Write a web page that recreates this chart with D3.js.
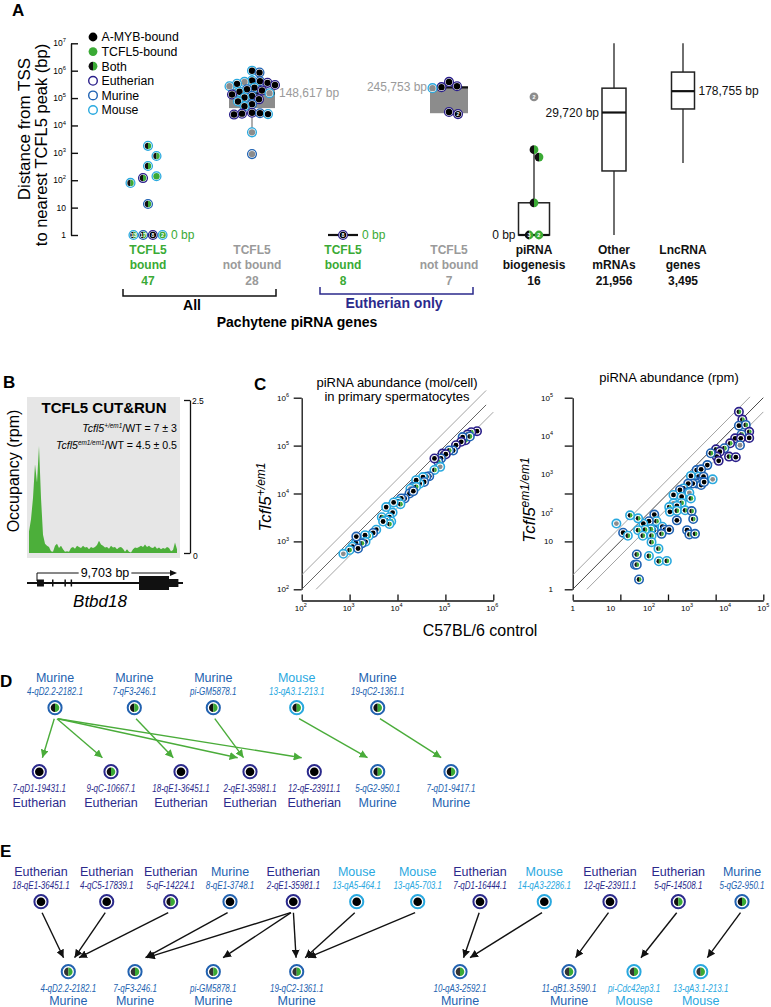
<!DOCTYPE html>
<html><head><meta charset="utf-8">
<script src="https://cdn.jsdelivr.net/npm/d3@7"></script>
<style>
body{margin:0;background:#fff;}
svg{display:block;font-family:"Liberation Sans",Arial,Helvetica,sans-serif;}
</style></head><body>
<svg id="fig" width="771" height="1007"></svg>
<script>
// ---------------- DATA ----------------
// Panel A
const aCatKeys = ["allBound","allNot","euBound","euNot","pirna","mrna","lnc"];
const aCatLines = [["TCFL5","bound"],["TCFL5","not bound"],["TCFL5","bound"],["TCFL5","not bound"],["piRNA","biogenesis"],["Other","mRNAs"],["LncRNA","genes"]];
const aCatN = ["47","28","8","7","16","21,956","3,495"];
const aCatColor = ["green","gray","green","gray","black","black","black"];
const aTicks = [1,10,1e2,1e3,1e4,1e5,1e6,1e7];
const legendLabels = ["A-MYB-bound","TCFL5-bound","Both","Eutherian","Murine","Mouse"];
const legendFill = ["black","green","both",null,null,null];
const legendRing = [null,null,null,"eutherian","murine","mouse"];
// dots: [value(bp), fill, ring, count label]
const allBoundDots = [[1800,"both","mouse"],[770,"both","mouse"],[330,"both","mouse"],[120,"both","eutherian"],[140,"green","mouse"],[80,"both","mouse"],[13.5,"both","murine"]];
const allBoundZero = [["both","mouse","13"],["both","murine","17"],["black","eutherian","8"],["green","mouse","2"]];
const allNotDots = [[1.0e6,"black","mouse"],[8.5e5,"black","murine"],[4.4e5,"black","mouse"],[4.1e5,"black","murine"],[3.9e5,"gray","mouse"],[3.6e5,"black","eutherian"],[3.3e5,"black","mouse"],[3.0e5,"black","eutherian"],[2.7e5,"gray","mouse"],[2.4e5,"black","mouse"],[2.1e5,"black","murine"],[1.9e5,"black","eutherian"],[1.7e5,"black","mouse"],[1.5e5,"gray","mouse"],[1.35e5,"black","eutherian"],[1.2e5,"black","murine"],[1.05e5,"black","mouse"],[9e4,"black","eutherian"],[7.5e4,"black","mouse"],[6e4,"black","murine"],[5e4,"black","mouse"],[2.9e4,"black","eutherian"],[2.8e4,"black","murine"],[2.7e4,"black","eutherian"],[2.6e4,"black","mouse"],[2.5e4,"black","eutherian"],[5600,"gray","mouse"],[900,"gray","murine"]];
const euBoundZero = [["black","eutherian","8"]];
const euNotDots = [[2.5e5,"black","eutherian"],[2.7e5,"black","eutherian"],[3.9e5,"black","eutherian"],[2.3e5,"gray","mouse"],[3.1e4,"black","eutherian"],[2.6e4,"black","eutherian","2"]];
const pirnaDots = [[1300,"both",null],[700,"both",null],[15,"both",null],[1.1e5,"gray",null,"2"]];
const pirnaZero = [["both",null,"3"],["green",null,"2"]];
// box stats [key, q1, median, q3, whiskerLow, whiskerHigh, medianLabel]
const boxStats = [
  ["allNot",4.3e4,148617,2.2e5,5700,1e6,"148,617 bp"],
  ["euBound",1,1,1,null,null,"0 bp"],
  ["euNot",2.8e4,245753,245753,null,null,"245,753 bp"],
  ["pirna",1,1,15,1,1300,"0 bp"],
  ["mrna",218,29720,2.3e5,1,1e7,"29,720 bp"],
  ["lnc",4e4,178755,8.9e5,427,1e7,"178,755 bp"]
];
// Panel B coverage (rpm), evenly spaced bins across the locus
const coverage = [0.35,0.55,0.9,1.45,1.15,1.75,0.9,0.3,0.15,0.12,0.1,0.03,0.02,0.12,0.15,0.08,0.12,0.06,0.02,0.03,0.02,0.08,0.1,0.07,0.12,0.1,0.08,0.12,0.09,0.1,0.06,0.1,0.08,0.1,0.13,0.2,0.14,0.12,0.09,0.1,0.07,0.12,0.09,0.1,0.06,0.09,0.1,0.07,0.02,0.06,0.02,0.01,0.06,0.09,0.08,0.1,0.12,0.1,0.14,0.1,0.12,0.09,0.08,0.11,0.07,0.09,0.06,0.08,0.07,0.1,0.08,0.03,0.05,0.17,0.06];
const geneLength = 9703;
// exons [startBp, endBp, type]
const exons = [[0,480,"small"],[1040,1080,"tick"],[1900,1940,"tick"],[2330,2380,"tick"],[7070,9150,"big"],[9150,9800,"utr"]];
// Panel C scatter [x, y, fill, ring]
const cLeft = [[457000,200000,"black","eutherian"],[347000,190000,"both","eutherian"],[288000,170000,"black","eutherian"],[263000,129000,"both","eutherian"],[324000,155000,"both","murine"],[229000,151000,"black","murine"],[214000,120000,"black","eutherian"],[166000,102000,"black","eutherian"],[145000,79000,"black","murine"],[120000,79000,"both","murine"],[87000,68000,"black","eutherian"],[102000,66000,"black","eutherian"],[81000,54000,"black","murine"],[71000,46000,"both","murine"],[59000,54000,"black","eutherian"],[78000,36000,"gray","mouse"],[59000,31000,"both","mouse"],[46000,23000,"black","murine"],[40000,22500,"black","murine"],[34000,22000,"black","mouse"],[36000,17400,"black","murine"],[29000,16000,"black","mouse"],[24500,19000,"black","mouse"],[21000,13800,"black","murine"],[24500,13800,"both","mouse"],[18600,12600,"gray","mouse"],[17800,10000,"black","murine"],[21400,11200,"black","murine"],[14100,7900,"black","murine"],[12000,7900,"black","murine"],[10200,6800,"black","mouse"],[11500,6000,"both","mouse"],[8300,6500,"black","mouse"],[5800,5200,"black","mouse"],[4700,3200,"both","mouse"],[7900,4000,"black","mouse"],[6800,3200,"black","mouse"],[7400,2600,"both","mouse"],[5800,2750,"black","mouse"],[6800,2300,"both","mouse"],[5000,2600,"black","mouse"],[3600,1750,"black","mouse"],[3100,1500,"black","murine"],[2500,1300,"both","mouse"],[2100,1350,"black","mouse"],[2150,980,"black","mouse"],[1800,910,"both","murine"],[1350,930,"black","mouse"],[1380,1260,"black","murine"],[1150,780,"black","mouse"],[1000,660,"both","mouse"],[740,550,"gray","mouse"],[1500,710,"black","murine"]];
const cRight = [[22900,42700,"both","eutherian"],[28200,26900,"both","eutherian"],[22900,18600,"black","murine"],[34700,19500,"both","murine"],[42700,12900,"both","eutherian"],[42700,8900,"black","eutherian"],[26900,11000,"both","murine"],[18200,8700,"black","eutherian"],[25700,8700,"black","eutherian"],[24500,5750,"gray","murine"],[13500,6450,"both","eutherian"],[9550,4800,"both","murine"],[12600,2900,"both","eutherian"],[19000,2800,"black","eutherian"],[5750,4500,"both","eutherian"],[7250,3900,"black","eutherian"],[6000,2900,"black","eutherian"],[6750,2250,"black","eutherian"],[4200,3550,"both","murine"],[3400,1740,"black","murine"],[1780,1290,"black","murine"],[2340,1350,"black","murine"],[4700,740,"gray","mouse"],[2000,870,"black","mouse"],[2700,870,"black","murine"],[2200,630,"black","murine"],[1450,740,"black","murine"],[1260,910,"black","mouse"],[1780,575,"both","murine"],[1410,575,"black","murine"],[1070,575,"black","murine"],[2340,525,"black","murine"],[2800,630,"black","murine"],[800,430,"black","mouse"],[1070,340,"black","murine"],[890,260,"both","murine"],[650,390,"black","murine"],[440,290,"black","mouse"],[720,260,"black","mouse"],[1150,330,"gray","mouse"],[1260,235,"both","mouse"],[720,180,"both","mouse"],[440,175,"gray","mouse"],[540,150,"black","mouse"],[340,140,"both","mouse"],[355,105,"black","mouse"],[540,112,"both","mouse"],[890,115,"both","mouse"],[1320,110,"both","murine"],[540,63,"black","murine"],[1450,68,"both","murine"],[1000,35,"black","murine"],[1150,27,"both","murine"],[1620,28,"both","murine"],[138,89,"black","murine"],[158,60,"both","mouse"],[100,60,"black","murine"],[71,52,"black","mouse"],[52,71,"both","mouse"],[135,35,"black","murine"],[224,43,"black","mouse"],[263,36,"black","murine"],[339,36,"black","murine"],[214,28,"both","murine"],[112,37,"both","mouse"],[79,36,"both","mouse"],[52,35,"both","mouse"],[69,25,"both","mouse"],[117,25,"both","mouse"],[117,17,"both","mouse"],[178,11.5,"both","mouse"],[32,85,"both","mouse"],[14,52,"gray","mouse"],[21,30,"black","murine"],[28,25,"both","mouse"],[48,8.1,"both","murine"],[43,4.4,"black","murine"],[48,4.4,"both","murine"],[100,7.4,"both","mouse"],[182,5.4,"both","mouse"],[295,5.5,"both","mouse"],[55,1.8,"both","murine"]];
const cLeftTicks = [1e2,1e3,1e4,1e5,1e6];
const cRightTickMarks = [1,Math.pow(10,1.25),Math.pow(10,2.5),Math.pow(10,3.75),1e5];
const cRightXLabels = [[1,"1",""],[10,"10",""],[100,"10","2"],[1000,"10","3"],[1e4,"10","4"],[1e5,"10","5"]];
const cRightYLabels = [[1,"1",""],[Math.pow(10,1.25),"10",""],[100,"10","2"],[1000,"10","3"],[1e4,"10","4"],[1e5,"10","5"]];
// Panel D / E nodes [id, category, fill]
const dTop = [["4-qD2.2-2182.1","Murine","both"],["7-qF3-246.1","Murine","both"],["pi-GM5878.1","Murine","both"],["13-qA3.1-213.1","Mouse","both"],["19-qC2-1361.1","Murine","both"]];
const dBottom = [["7-qD1-19431.1","Eutherian","black"],["9-qC-10667.1","Eutherian","both"],["18-qE1-36451.1","Eutherian","black"],["2-qE1-35981.1","Eutherian","black"],["12-qE-23911.1","Eutherian","black"],["5-qG2-950.1","Murine","both"],["7-qD1-9417.1","Murine","both"]];
const dLinks = [["4-qD2.2-2182.1","7-qD1-19431.1"],["4-qD2.2-2182.1","9-qC-10667.1"],["4-qD2.2-2182.1","2-qE1-35981.1"],["4-qD2.2-2182.1","12-qE-23911.1"],["7-qF3-246.1","18-qE1-36451.1"],["pi-GM5878.1","2-qE1-35981.1"],["13-qA3.1-213.1","5-qG2-950.1"],["19-qC2-1361.1","7-qD1-9417.1"]];
const eTop = [["18-qE1-36451.1","Eutherian","black"],["4-qC5-17839.1","Eutherian","black"],["5-qF-14224.1","Eutherian","both"],["8-qE1-3748.1","Murine","black"],["2-qE1-35981.1","Eutherian","black"],["13-qA5-464.1","Mouse","black"],["13-qA5-703.1","Mouse","black"],["7-qD1-16444.1","Eutherian","black"],["14-qA3-2286.1","Mouse","black"],["12-qE-23911.1","Eutherian","black"],["5-qF-14508.1","Eutherian","both"],["5-qG2-950.1","Murine","both"]];
const eBottom = [["4-qD2.2-2182.1","Murine","both"],["7-qF3-246.1","Murine","both"],["pi-GM5878.1","Murine","both"],["19-qC2-1361.1","Murine","both"],["10-qA3-2592.1","Murine","both"],["11-qB1.3-590.1","Murine","both"],["pi-Cdc42ep3.1","Mouse","both"],["13-qA3.1-213.1","Mouse","both"]];
const eLinks = [["18-qE1-36451.1","4-qD2.2-2182.1"],["4-qC5-17839.1","4-qD2.2-2182.1"],["5-qF-14224.1","4-qD2.2-2182.1"],["8-qE1-3748.1","7-qF3-246.1"],["2-qE1-35981.1","7-qF3-246.1"],["2-qE1-35981.1","pi-GM5878.1"],["2-qE1-35981.1","19-qC2-1361.1"],["13-qA5-464.1","19-qC2-1361.1"],["13-qA5-703.1","19-qC2-1361.1"],["7-qD1-16444.1","10-qA3-2592.1"],["14-qA3-2286.1","10-qA3-2592.1"],["12-qE-23911.1","11-qB1.3-590.1"],["5-qF-14508.1","pi-Cdc42ep3.1"],["5-qG2-950.1","13-qA3.1-213.1"]];

// ---------------- STYLE ----------------
const GREEN="#3aaa35", GRAYF="#8c8c8c", TXTGRAY="#9a9a9a";
const RING={eutherian:"#2a1f8a", murine:"#1f62b3", mouse:"#29a9df"};
const CATCOL={Eutherian:"#2b2a8c", Murine:"#2262b0", Mouse:"#29a8df"};
const svg=d3.select("#fig");
function colorOf(c){return c==="green"?GREEN:c==="gray"?TXTGRAY:"#111";}

function dot(g,x,y,fill,ring,rO,rI,sw,label){
  if(ring){g.append("circle").attr("cx",x).attr("cy",y).attr("r",rO).attr("fill","#fff").attr("stroke",RING[ring]).attr("stroke-width",sw);}
  const r = ring? rI : rO;
  if(fill==="both"){
    g.append("path").attr("d",`M${x},${y-r}A${r},${r} 0 0 0 ${x},${y+r}Z`).attr("fill","#111");
    g.append("path").attr("d",`M${x},${y-r}A${r},${r} 0 0 1 ${x},${y+r}Z`).attr("fill",GREEN);
  } else if(fill){
    g.append("circle").attr("cx",x).attr("cy",y).attr("r",r).attr("fill",fill==="black"?"#000":fill==="green"?GREEN:GRAYF);
  }
  if(label){g.append("text").attr("x",x).attr("y",y+1.9).attr("text-anchor","middle").attr("font-size",5.5).attr("font-weight","bold").attr("fill","#fff").text(label);}
}
function sup(sel,base,exp,size){
  sel.text(base);
  if(exp) sel.append("tspan").attr("dy",-size*0.45).attr("font-size",size*0.68).text(exp);
}
function swarm(vals,yOf,cx,minD){
  const pts=vals.map(d=>({d,y:yOf(d)})).sort((a,b)=>a.y-b.y);
  const placed=[];
  pts.forEach(p=>{
    for(let k=0;k<600;k++){
      const x=cx+(k%2?1:-1)*Math.ceil(k/2)*0.5;
      if(placed.every(q=>Math.hypot(q.x-x,q.y-p.y)>=minD)){p.x=x;break;}
    }
    placed.push(p);
  });
  return pts;
}
function panelLabel(t,x,y){svg.append("text").attr("x",x).attr("y",y).attr("font-size",17).attr("font-weight","bold").text(t);}

// ---------------- PANEL A ----------------
panelLabel("A",12,16);
const yA=d3.scaleLog().domain([1,1e7]).range([235,43.3]);
const xA=d3.scaleOrdinal().domain(aCatKeys).range([148,252,343,449,534,614,683]);
const boxW=d3.scaleOrdinal().domain(["allNot","euBound","euNot","pirna","mrna","lnc"]).range([46,30,38,31,24,23]);
const gA=svg.append("g");
const gAdots=svg.append("g");
const gAtxt=svg.append("g");
const axA=gA.append("g").attr("transform","translate(71,0)").call(d3.axisLeft(yA).tickValues(aTicks).tickSize(-7).tickSizeOuter(0).tickFormat(""));
axA.selectAll("path,line").attr("stroke","#111").attr("stroke-width",1.4);
aTicks.forEach(v=>{
  const e=Math.round(Math.log10(v));
  const t=gA.append("text").attr("x",66).attr("y",yA(v)+3).attr("text-anchor","end").attr("font-size",8.5);
  if(e===0) sup(t,"1","",8.5); else if(e===1) sup(t,"10","",8.5); else sup(t,"10",String(e),8.5);
});
gA.append("text").attr("transform","translate(30,129) rotate(-90)").attr("text-anchor","middle").attr("font-size",17).text("Distance from TSS");
gA.append("text").attr("transform","translate(47,145) rotate(-90)").attr("text-anchor","middle").attr("font-size",16.5).text("to nearest  TCFL5 peak (bp)");
// legend
legendLabels.forEach((l,i)=>{
  const y=37+i*14.6;
  if(legendRing[i]) gA.append("circle").attr("cx",93).attr("cy",y).attr("r",4.3).attr("fill","none").attr("stroke",RING[legendRing[i]]).attr("stroke-width",1.4);
  else dot(gA,93,y,legendFill[i],null,4.4,0,0);
  gA.append("text").attr("x",101.5).attr("y",y+4.3).attr("font-size",12.3).text(l);
});
// boxes
boxStats.forEach(([k,q1,med,q3,lo,hi,lab])=>{
  const cx=xA(k), w=boxW(k);
  if(k==="euBound"){
    gA.append("line").attr("x1",cx-w/2).attr("x2",cx+w/2).attr("y1",yA(med)).attr("y2",yA(med)).attr("stroke","#111").attr("stroke-width",2.2);
    gAtxt.append("text").attr("x",cx+w/2+4).attr("y",yA(med)+4).attr("font-size",12).attr("fill",GREEN).text(lab);
    return;
  }
  const filled=(k==="allNot"||k==="euNot");
  if(lo!==null){
    gA.append("line").attr("x1",cx).attr("x2",cx).attr("y1",yA(hi)).attr("y2",yA(lo)).attr("stroke",filled?"#8c8c8c":"#333").attr("stroke-width",1.4);
  }
  gA.append("rect").attr("x",cx-w/2).attr("width",w).attr("y",yA(q3)).attr("height",Math.max(yA(q1)-yA(q3),0.1))
    .attr("fill",filled?"#8c8c8c":"#fff").attr("stroke",filled?"none":"#222").attr("stroke-width",1.5);
  gA.append("line").attr("x1",cx-w/2).attr("x2",cx+w/2).attr("y1",yA(med)).attr("y2",yA(med)).attr("stroke","#111").attr("stroke-width",2.2);
  const right=(k==="allNot"||k==="lnc");
  gAtxt.append("text").attr("x",right?cx+w/2+4:cx-w/2-3).attr("y",yA(med)+4).attr("text-anchor",right?"start":"end")
    .attr("font-size",12).attr("fill",filled?TXTGRAY:"#111").text(lab);
});
// dots
const RO=4.4, RI=3.2, SW=1.3;
function drawSwarm(arr,key,minD){
  swarm(arr,d=>yA(d[0]),xA(key),minD).forEach(p=>dot(gAdots,p.x,p.y,p.d[1],p.d[2],RO,RI,SW,p.d[3]));
}
function drawZeroRow(arr,key){
  const n=arr.length;
  arr.forEach((d,i)=>dot(gAdots,xA(key)+(i-(n-1)/2)*9.7,yA(1),d[0],d[1],RO,RI,SW,d[2]));
}
drawSwarm(allBoundDots,"allBound",13);
drawZeroRow(allBoundZero,"allBound");
gAtxt.append("text").attr("x",xA("allBound")+23).attr("y",yA(1)+4).attr("font-size",12).attr("fill",GREEN).text("0 bp");
drawSwarm(allNotDots,"allNot",7.6);
drawZeroRow(euBoundZero,"euBound");
drawSwarm(euNotDots,"euNot",8.8);
drawSwarm(pirnaDots,"pirna",8.8);
drawZeroRow(pirnaZero,"pirna");
// category labels
aCatKeys.forEach((k,i)=>{
  const col=colorOf(aCatColor[i]);
  aCatLines[i].forEach((l,j)=>gAtxt.append("text").attr("x",xA(k)).attr("y",254+j*15).attr("text-anchor","middle").attr("font-size",12).attr("font-weight","bold").attr("fill",col).text(l));
  gAtxt.append("text").attr("x",xA(k)).attr("y",285).attr("text-anchor","middle").attr("font-size",12).attr("font-weight","bold").attr("fill",col).text(aCatN[i]);
});
// brackets
function bracket(x1,x2,y,col){
  gA.append("path").attr("d",`M${x1},${y-7}V${y}H${x2}V${y-7}`).attr("fill","none").attr("stroke",col).attr("stroke-width",1.5);
}
bracket(xA("allBound")-25,xA("allNot")+24,296,"#111");
bracket(xA("euBound")-23,xA("euNot")+24,294,"#2b2a8c");
gAtxt.append("text").attr("x",(xA("allBound")+xA("allNot"))/2-8).attr("y",310).attr("text-anchor","middle").attr("font-size",14).attr("font-weight","bold").text("All");
gAtxt.append("text").attr("x",(xA("euBound")+xA("euNot"))/2-2).attr("y",308).attr("text-anchor","middle").attr("font-size",14).attr("font-weight","bold").attr("fill","#2b2a8c").text("Eutherian only");
gAtxt.append("text").attr("x",297).attr("y",327).attr("text-anchor","middle").attr("font-size",14).attr("font-weight","bold").text("Pachytene piRNA genes");

// ---------------- PANEL B ----------------
panelLabel("B",3,388);
const gB=svg.append("g");
gB.append("rect").attr("x",27).attr("y",397).attr("width",153).attr("height",161).attr("fill","#e6e6e6");
const xB=d3.scaleLinear().domain([0,coverage.length-1]).range([29,177]);
const yB=d3.scaleLinear().domain([0,2.5]).range([553,400]);
gB.append("path").datum(coverage).attr("fill","#4caf3a")
  .attr("d",d3.area().x((d,i)=>xB(i)).y0(yB(0)).y1(d=>yB(d)));
const axB=gB.append("g").attr("transform","translate(190,0)").call(d3.axisRight(yB).tickValues([0,2.5]).tickSize(-6).tickSizeOuter(0).tickFormat(""));
axB.selectAll("path,line").attr("stroke","#111").attr("stroke-width",1.3);
gB.append("text").attr("x",192).attr("y",404).attr("font-size",8.5).text("2.5");
gB.append("text").attr("x",193).attr("y",559).attr("font-size",8.5).text("0");
gB.append("text").attr("x",104).attr("y",413).attr("text-anchor","middle").attr("font-size",15).attr("font-weight","bold").text("TCFL5 CUT&RUN");
function ratio(y,exp,rest){
  const t=gB.append("text").attr("x",177).attr("y",y).attr("text-anchor","end").attr("font-size",10.6);
  t.append("tspan").attr("font-style","italic").text("Tcfl5");
  t.append("tspan").attr("font-style","italic").attr("dy",-3.8).attr("font-size",6.4).text(exp);
  t.append("tspan").attr("dy",3.8).text(rest);
}
ratio(432,"+/em1","/WT = 7 ± 3");
ratio(449,"em1/em1","/WT = 4.5 ± 0.5");
gB.append("text").attr("transform","translate(19,471) rotate(-90)").attr("text-anchor","middle").attr("font-size",16).text("Occupancy (rpm)");
// gene model
const xG=d3.scaleLinear().domain([0,geneLength]).range([37,177]);
gB.append("line").attr("x1",27).attr("x2",183).attr("y1",583).attr("y2",583).attr("stroke","#111").attr("stroke-width",2);
exons.forEach(([s,e,t])=>{
  const h=t==="big"?14:t==="utr"?8:7;
  const w=Math.max(xG(e)-xG(s),1.5);
  gB.append("rect").attr("x",xG(s)).attr("width",w).attr("y",583-h/2).attr("height",h).attr("fill","#111");
});
const lbl=gB.append("text").attr("x",105).attr("y",577).attr("text-anchor","middle").attr("font-size",12.5).text("9,703 bp");
const bb=lbl.node().getBBox();
gB.append("path").attr("d",`M${xG(0)},581V573H${bb.x-2}`).attr("fill","none").attr("stroke","#111").attr("stroke-width",1);
gB.append("line").attr("x1",bb.x+bb.width+2).attr("x2",xG(geneLength)-5).attr("y1",573).attr("y2",573).attr("stroke","#111").attr("stroke-width",1);
gB.append("path").attr("d",`M${xG(geneLength)},573l-7,-3v6z`).attr("fill","#111");
gB.append("text").attr("x",100).attr("y",607).attr("text-anchor","middle").attr("font-size",17).attr("font-style","italic").text("Btbd18");

// ---------------- PANEL C ----------------
panelLabel("C",254,390);
const gC=svg.append("g");
const CRO=4.2, CRI=2.4, CSW=1.6;
function diag(x0,x1,f,col,xs,ys){
  gC.append("line").attr("x1",xs(x0)).attr("y1",ys(x0*f)).attr("x2",xs(x1)).attr("y2",ys(x1*f)).attr("stroke",col).attr("stroke-width",0.9);
}
// left
const xL=d3.scaleLog().domain([1e2,1e6]).range([301.7,493.3]);
const yL=d3.scaleLog().domain([1e2,1e6]).range([589.3,397.7]);
const axLy=gC.append("g").attr("transform","translate(301.7,0)").call(d3.axisLeft(yL).tickValues(cLeftTicks).tickSize(8).tickSizeOuter(0).tickFormat(""));
const axLx=gC.append("g").attr("transform","translate(0,600.5)").call(d3.axisBottom(xL).tickValues(cLeftTicks).tickSize(-6).tickSizeOuter(0).tickFormat(""));
[axLy,axLx].forEach(a=>a.selectAll("path,line").attr("stroke","#111").attr("stroke-width",1.3));
cLeftTicks.forEach(v=>{
  const e=String(Math.round(Math.log10(v)));
  sup(gC.append("text").attr("x",289).attr("y",yL(v)+3).attr("text-anchor","end").attr("font-size",8),"10",e,8);
  sup(gC.append("text").attr("x",xL(v)-1).attr("y",611).attr("text-anchor","middle").attr("font-size",8),"10",e,8);
});
diag(1e2,Math.pow(10,5.85),2,"#9a9a9a",xL,yL);
diag(1e2,Math.pow(10,5.85),1,"#555",xL,yL);
diag(2e2,Math.pow(10,6),0.5,"#9a9a9a",xL,yL);
cLeft.forEach(d=>dot(gC,xL(d[0]),yL(d[1]),d[2],d[3],CRO,CRI,CSW));
gC.append("text").attr("x",397).attr("y",387).attr("text-anchor","middle").attr("font-size",13).text("piRNA abundance (mol/cell)");
gC.append("text").attr("x",397).attr("y",401).attr("text-anchor","middle").attr("font-size",13).text("in primary spermatocytes");
function ylab(x,y,exp){
  const t=gC.append("text").attr("transform",`translate(${x},${y}) rotate(-90)`).attr("text-anchor","middle").attr("font-size",17).attr("font-style","italic");
  t.append("tspan").text("Tcfl5");
  t.append("tspan").attr("dy",-6).attr("font-size",12).text(exp);
}
ylab(271,497,"+/em1");
ylab(535,500,"em1/em1");
// right
const xR=d3.scaleLog().domain([1,1e5]).range([572.7,763.3]);
const yR=d3.scaleLog().domain([1,1e5]).range([589.3,397.7]);
const axRy=gC.append("g").attr("transform","translate(572.7,0)").call(d3.axisLeft(yR).tickValues(cRightTickMarks).tickSize(8).tickSizeOuter(0).tickFormat(""));
const axRx=gC.append("g").attr("transform","translate(0,600.5)").call(d3.axisBottom(xR).tickValues(cRightTickMarks).tickSize(-6).tickSizeOuter(0).tickFormat(""));
[axRy,axRx].forEach(a=>a.selectAll("path,line").attr("stroke","#111").attr("stroke-width",1.3));
cRightYLabels.forEach(([v,b,e])=>sup(gC.append("text").attr("x",553).attr("y",yR(v)+3).attr("text-anchor","end").attr("font-size",8),b,e,8));
cRightXLabels.forEach(([v,b,e])=>sup(gC.append("text").attr("x",xR(v)).attr("y",611).attr("text-anchor","middle").attr("font-size",8),b,e,8));
diag(1,Math.pow(10,4.65),2.35,"#9a9a9a",xR,yR);
diag(1,1e5,1,"#333",xR,yR);
diag(2.35,1e5,1/2.35,"#9a9a9a",xR,yR);
cRight.forEach(d=>dot(gC,xR(d[0]),yR(d[1]),d[2],d[3],CRO,CRI,CSW));
gC.append("text").attr("x",669).attr("y",382).attr("text-anchor","middle").attr("font-size",13).text("piRNA abundance (rpm)");
gC.append("text").attr("x",480).attr("y",636).attr("text-anchor","middle").attr("font-size",16).text("C57BL/6 control");

// ---------------- PANELS D & E ----------------
const defs=svg.append("defs");
[["arrG","#4aac3a"],["arrK","#111"]].forEach(([id,c])=>{
  defs.append("marker").attr("id",id).attr("viewBox","0 0 10 10").attr("refX",10).attr("refY",5)
   .attr("markerWidth",8).attr("markerHeight",8).attr("markerUnits","userSpaceOnUse").attr("orient","auto")
   .append("path").attr("d","M0,0L10,5L0,10z").attr("fill",c);
});
function network(g,top,bottom,links,xTop,xBot,yTop,yBot,col,marker,topLab,botLab,leftFill){
  const pos={top:{},bot:{}};
  top.forEach(d=>pos.top[d[0]]=[xTop(d[0]),yTop]);
  bottom.forEach(d=>pos.bot[d[0]]=[xBot(d[0]),yBot]);
  links.forEach(([s,t])=>{
    const [sx,sy]=pos.top[s], [tx,ty]=pos.bot[t];
    const dx=tx-sx, dy=ty-sy, L=Math.hypot(dx,dy), ux=dx/L;
    g.append("line").attr("x1",sx+ux*3).attr("y1",sy+11).attr("x2",tx-ux*13).attr("y2",ty-14)
      .attr("stroke",col).attr("stroke-width",1.4).attr("marker-end",`url(#${marker})`);
  });
  function node(d,x,y,lf){
    g.append("circle").attr("cx",x).attr("cy",y).attr("r",6.6).attr("fill","#fff").attr("stroke",CATCOL[d[1]]).attr("stroke-width",2);
    const r=4.3;
    if(d[2]==="both"){
      g.append("path").attr("d",`M${x},${y-r}A${r},${r} 0 0 0 ${x},${y+r}Z`).attr("fill",lf);
      g.append("path").attr("d",`M${x},${y-r}A${r},${r} 0 0 1 ${x},${y+r}Z`).attr("fill",GREEN);
    } else g.append("circle").attr("cx",x).attr("cy",y).attr("r",r).attr("fill","#000");
  }
  function idText(x,y,d){
    // condensed italic label: horizontal scale applied via transform
    g.append("text").attr("transform",`translate(${x},${y}) scale(0.73,1)`).attr("text-anchor","middle")
      .attr("font-size",11).attr("font-style","italic").attr("fill",CATCOL[d[1]]).text(d[0]);
  }
  top.forEach(d=>{
    const [x,y]=pos.top[d[0]];
    node(d,x,y,"#111");
    g.append("text").attr("x",x).attr("y",y+topLab[0]).attr("text-anchor","middle").attr("font-size",12.5).attr("fill",CATCOL[d[1]]).text(d[1]);
    idText(x,y+topLab[1],d);
  });
  bottom.forEach(d=>{
    const [x,y]=pos.bot[d[0]];
    node(d,x,y,leftFill);
    idText(x,y+botLab[0],d);
    g.append("text").attr("x",x).attr("y",y+botLab[1]).attr("text-anchor","middle").attr("font-size",12.5).attr("fill",CATCOL[d[1]]).text(d[1]);
  });
}
panelLabel("D",0,687);
const xDtop=d3.scaleOrdinal().domain(dTop.map(d=>d[0])).range([55,134.3,213.3,296.7,377.7]);
const xDbot=d3.scaleOrdinal().domain(dBottom.map(d=>d[0])).range([39.3,111,181,250,314.3,377.7,451]);
network(svg.append("g"),dTop,dBottom,dLinks,xDtop,xDbot,707.7,771.7,"#4aac3a","arrG",[-26,-12.7],[20.5,35],"#111");
panelLabel("E",0,857);
const xEtop=d3.scaleOrdinal().domain(eTop.map(d=>d[0])).range([41,106.7,170.7,230,293.3,356.7,417.7,480,544.3,610,678.3,742]);
const xEbot=d3.scaleOrdinal().domain(eBottom.map(d=>d[0])).range([68.3,135,213.3,296.7,460,569,634,700.7]);
network(svg.append("g"),eTop,eBottom,eLinks,xEtop,xEbot,901.7,971.7,"#111","arrK",[-26,-12.7],[20.5,33.5],"#333");
</script>
</body></html>
